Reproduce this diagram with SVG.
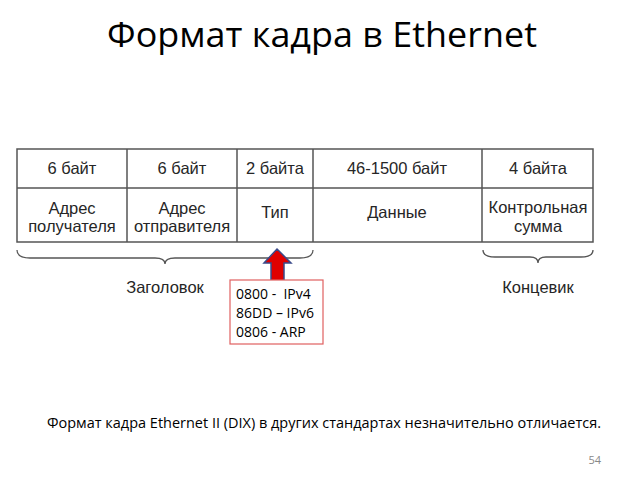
<svg xmlns="http://www.w3.org/2000/svg" width="640" height="480" viewBox="0 0 640 480">
<style>
.t{font-family:"Liberation Sans",Arial,sans-serif;font-size:16.5px;fill:#262626;text-anchor:middle}
.c{font-family:"Open Sans","Noto Sans",sans-serif;fill:#000}
.grid{fill:none;stroke:#555;stroke-width:1.5}
.brace{fill:none;stroke:#555;stroke-width:1.3}
</style>
<rect width="640" height="480" fill="#fff"/>
<text class="c" x="322" y="47" font-size="34" text-anchor="middle" textLength="430" lengthAdjust="spacingAndGlyphs">Формат кадра в Ethernet</text>
<g id="table">
<rect class="grid" x="17" y="149" width="576" height="93"/>
<line class="grid" x1="17" y1="188" x2="593" y2="188"/>
<line class="grid" x1="127" y1="149" x2="127" y2="242"/>
<line class="grid" x1="237" y1="149" x2="237" y2="242"/>
<line class="grid" x1="313" y1="149" x2="313" y2="242"/>
<line class="grid" x1="482" y1="149" x2="482" y2="242"/>
</g>
<g id="col1"><text class="t" x="72" y="174">6 байт</text><text class="t" x="72" y="214">Адрес</text><text class="t" x="72" y="232">получателя</text></g>
<g id="col2"><text class="t" x="182" y="174">6 байт</text><text class="t" x="182" y="214">Адрес</text><text class="t" x="182" y="232">отправителя</text></g>
<g id="col3"><text class="t" x="275" y="174">2 байта</text><text class="t" x="275" y="218">Тип</text></g>
<g id="col4"><text class="t" x="397" y="174">46-1500 байт</text><text class="t" x="397" y="218">Данные</text></g>
<g id="col5"><text class="t" x="538" y="174">4 байта</text><text class="t" x="538" y="213">Контрольная</text><text class="t" x="538" y="232">сумма</text></g>
<g id="connectors">
<path class="brace" d="M17,250 Q17,258 30,258 L155,258 Q165,258 165,264 Q165,258 175,258 L300,258 Q313,258 313,250"/>
<path class="brace" d="M483,250 Q483,257 495,257 L530,257 Q538,257 538,263 Q538,257 546,257 L581,257 Q593,257 593,250"/>
<path d="M277,249 L291,263 L284,263 L284,281 L271,281 L271,263 L264,263 Z" fill="#e00000" stroke="#3a4a8a" stroke-width="1.5"/>
</g>
<g id="header"><text class="t" x="165" y="293">Заголовок</text></g>
<g id="trailer"><text class="t" x="538" y="293">Концевик</text></g>
<g id="types">
<rect x="230" y="280" width="93" height="64" fill="#fff" stroke="#e06060" stroke-width="1.2"/>
<text class="c" x="236" y="299" font-size="14" xml:space="preserve">0800 -  IPv4</text>
<text class="c" x="236" y="318" font-size="14">86DD – IPv6</text>
<text class="c" x="236" y="337" font-size="14">0806 - ARP</text>
</g>
<text class="c" x="47" y="428" font-size="14" textLength="554" lengthAdjust="spacingAndGlyphs">Формат кадра Ethernet II (DIX) в других стандартах незначительно отличается.</text>
<text class="c" x="601" y="464" font-size="11" text-anchor="end" style="fill:#888">54</text>
</svg>
